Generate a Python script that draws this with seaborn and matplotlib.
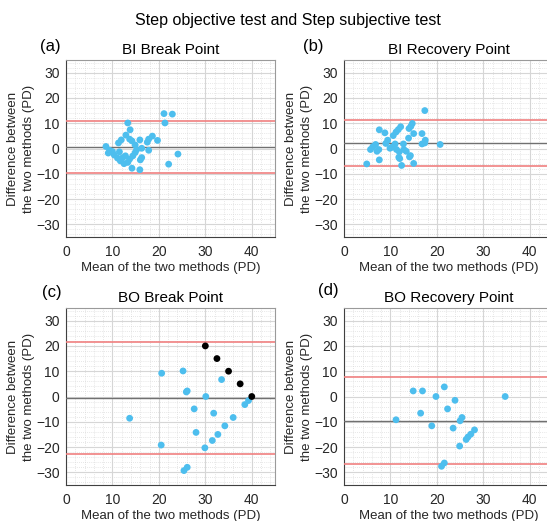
import numpy as np
import pandas as pd
import seaborn as sns
import matplotlib.pyplot as plt
from matplotlib.ticker import MultipleLocator

plt.rcParams["font.family"] = ["Liberation Sans", "DejaVu Sans"]

# Panel titles and labels
panel_titles = ["BI Break Point", "BI Recovery Point", "BO Break Point", "BO Recovery Point"]
panel_tags = ["(a)", "(b)", "(c)", "(d)"]

# (a) BI Break Point
a_mean = [8.6, 9.4, 9.1, 10.4, 11.1, 11.7, 11.5, 11.3, 11.9, 12.9, 13.3, 13.8, 13.7, 14.2,
          12.2, 12.8, 13.3, 13.7, 14.4, 14.9, 14.9, 14.2, 15.9, 16.0, 16.3, 15.9, 16.3,
          17.5, 17.8, 17.8, 18.6, 19.7, 21.1, 21.3, 22.9, 22.1, 24.1, 10.0, 12.5, 15.2]
a_diff = [0.8, -0.7, -1.8, -2.6, -3.8, -4.9, -1.3, 2.2, 3.4, 5.3, 10.1, 7.4, 3.7, 3.0,
          -3.6, -2.9, -5.5, -4.2, -2.9, -1.6, 1.4, -7.8, -8.4, -4.5, -3.6, 3.4, 0.1,
          2.5, -0.7, 3.7, 4.9, 3.2, 13.8, 10.1, 13.6, -6.2, -2.2, -1.2, -6.0, -0.5]

# (b) BI Recovery Point
b_mean = [4.9, 5.7, 6.2, 6.8, 7.1, 7.5, 7.6, 7.6, 8.8, 9.0, 9.4, 9.9, 10.6, 11.0, 11.2,
          11.3, 11.7, 11.9, 12.2, 12.0, 12.4, 12.8, 12.9, 13.4, 13.9, 14.0, 14.4, 14.7,
          14.1, 15.0, 15.0, 14.3, 16.8, 16.8, 17.4, 17.5, 17.4, 20.7, 10.3, 11.8]
b_diff = [-6.1, -0.4, 0.7, 1.6, -1.1, -0.4, 7.4, -4.5, 6.2, 2.0, 3.3, 0.1, 5.1, 1.8, 6.5,
          -0.4, 7.5, -1.3, 8.6, -4.0, -6.7, 1.8, -0.4, -1.1, 4.1, 7.9, 8.8, 9.9,
          -3.3, 5.9, -5.9, -2.8, 5.9, 1.8, 2.2, 3.3, 15.0, 1.6, 0.5, -3.5]

# (c) BO Break Point
c_mean = [13.7, 20.6, 20.5, 25.2, 26.1, 25.9, 30.1, 27.6, 28.0, 25.4, 26.1, 29.9, 31.5,
          31.8, 32.7, 33.5, 34.2, 36.0, 38.5, 39.3]
c_diff = [-8.6, 9.2, -19.2, 10.1, 2.2, 1.8, 0.0, -4.9, -14.2, -29.3, -28.0, -20.3, -17.4,
          -6.6, -15.0, 6.7, -11.6, -8.3, -3.2, -1.6]
c_out_mean = [30.0, 32.5, 35.0, 37.5, 40.0]
c_out_diff = [20.0, 15.0, 10.0, 5.0, 0.0]

# (d) BO Recovery Point
d_mean = [11.2, 14.9, 16.9, 16.5, 19.8, 18.9, 21.6, 23.9, 22.3, 23.5, 25.4, 25.0, 24.9,
          28.1, 27.3, 26.7, 26.3, 21.6, 21.0, 34.7]
d_diff = [-9.2, 2.2, 2.2, -6.6, 0.0, -11.6, 3.8, -1.5, -4.9, -12.5, -8.3, -9.6, -19.6,
          -13.2, -14.9, -16.0, -17.0, -26.3, -27.6, 0.0]

# bias and limits of agreement per panel
bias = [0.6, 2.0, -0.6, -9.5]
loa_upper = [10.8, 11.1, 21.4, 7.9]
loa_lower = [-9.6, -7.1, -22.6, -26.8]

panels = [(a_mean, a_diff), (b_mean, b_diff), (c_mean, c_diff), (d_mean, d_diff)]

W, H = 547, 521
fig = plt.figure(figsize=(W / 100, H / 100), dpi=100)

# axes boxes in pixels: left, top, right, bottom
boxes = [(66, 60, 275, 237), (344, 60, 553, 237),
         (66, 308, 275, 485), (344, 308, 553, 485)]
tag_pos = [(50, 46), (313, 46), (52, 293), (328, 291)]

blue = "#4DBEEE"
text_col = "#262626"

for i, (xs, ys) in enumerate(panels):
    l, t, r, b = boxes[i]
    ax = fig.add_axes([l / W, 1 - b / H, (r - l) / W, (b - t) / H])

    df = pd.DataFrame({"mean": xs, "diff": ys})
    sns.scatterplot(data=df, x="mean", y="diff", ax=ax, color=blue, s=24,
                    edgecolor="none", zorder=4)
    if i == 2:
        out = pd.DataFrame({"mean": c_out_mean, "diff": c_out_diff})
        sns.scatterplot(data=out, x="mean", y="diff", ax=ax, color="black", s=24,
                        edgecolor="none", zorder=5)

    ax.axhline(bias[i], color="#707070", lw=1.0, zorder=3)
    ax.axhline(loa_upper[i], color="#F08080", lw=1.2, zorder=3)
    ax.axhline(loa_lower[i], color="#F08080", lw=1.2, zorder=3)

    ax.set_xlim(0, 45)
    ax.set_ylim(-35, 35)
    ax.xaxis.set_major_locator(MultipleLocator(10))
    ax.yaxis.set_major_locator(MultipleLocator(10))
    ax.xaxis.set_minor_locator(MultipleLocator(2))
    ax.yaxis.set_minor_locator(MultipleLocator(2))
    ax.grid(which="major", color="#D6D6D6", lw=0.8, zorder=0)
    ax.grid(which="minor", color="#D0D0D0", lw=0.5, ls=(0, (1, 2)), zorder=0)
    ax.set_axisbelow(True)
    ax.tick_params(which="both", length=0, labelsize=10, colors=text_col, pad=4.5)
    ax.tick_params(axis="x", pad=6)

    for side in ["left", "bottom"]:
        ax.spines[side].set_color("#404040")
        ax.spines[side].set_linewidth(0.8)
    for side in ["top", "right"]:
        ax.spines[side].set_color("#9A9A9A")
        ax.spines[side].set_linewidth(0.8)

    ax.set_xlabel("Mean of the two methods (PD)", fontsize=9.5, color=text_col, labelpad=2)
    ax.set_ylabel("Difference between\nthe two methods (PD)", fontsize=9.5,
                  color=text_col, labelpad=1, linespacing=1.45)
    ax.set_title(panel_titles[i], fontsize=11, color="black", pad=4)
    tx, ty = tag_pos[i]
    fig.text(tx / W, 1 - ty / H, panel_tags[i], fontsize=12, ha="center", va="center")

fig.suptitle("Step objective test and Step subjective test", x=288 / W, y=1 - 13 / H,
             fontsize=11.5, va="top")

fig.savefig("out.png", dpi=100)
